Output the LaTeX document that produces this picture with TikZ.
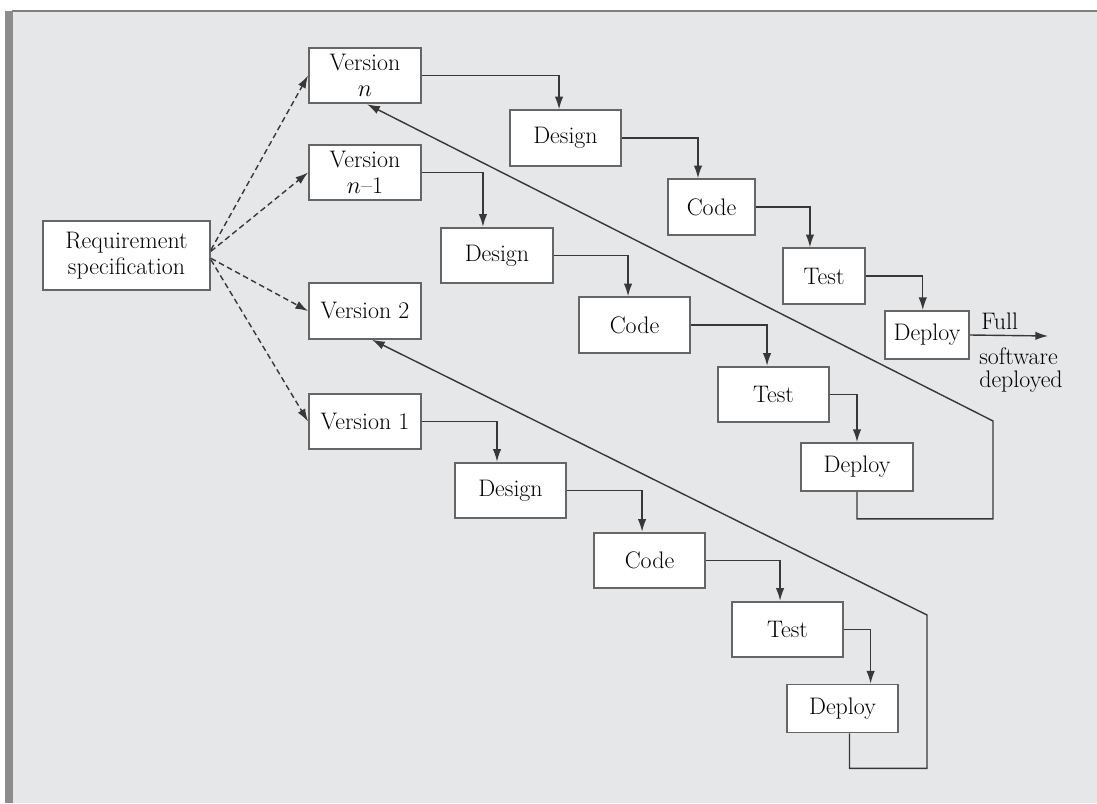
\documentclass[tikz,border=0pt]{standalone}
\usepackage{amsmath}
\usepackage{xcolor}
\usepackage{tikz}
\usetikzlibrary{arrows.meta}

\definecolor{panel}{HTML}{E6E7E9}
\definecolor{rim}{HTML}{666666}
\definecolor{ink}{HTML}{383838}

\begin{document}
\begin{tikzpicture}[x=0.025cm,y=-0.025cm]
\tikzstyle{every node}+=[inner sep=0pt, font=\fontsize{17}{18.5}\selectfont, text=black]
\tikzstyle{box}=[draw=rim, fill=white, line width=1.3pt, align=center, minimum width=2.78cm, minimum height=1.39cm]
\tikzstyle{low}=[box, minimum height=1.2cm]
\tikzstyle{flow}=[draw=ink, line width=1pt, -{Latex[length=9pt,width=6pt]}]
\tikzstyle{plan}=[flow, dash pattern=on 4pt off 2.5pt]
\useasboundingbox (0,0) rectangle (1097,803);
\fill [white] (0,0) rectangle (1097,803);
\fill [panel] (12,11) rectangle (1097,803);
\fill [gray!90] (5,11) rectangle (13,803);
\draw [gray, line width=1pt] (12,11) -- (1097,11);
\node [box, minimum width=4.175cm, minimum height=1.725cm] (req) at (126.5,255.5) {Requirement\\specification};
\node [box, minimum width=2.8cm] (vn) at (365,75.5) {Version\\$n$};
\node [box, minimum width=2.8cm] (vm) at (365,172.5) {Version\\$n$--1};
\node [box, minimum width=2.8cm] (vb) at (365,311) {Version 2};
\node [box, minimum width=2.8cm] (va) at (365,421.5) {Version 1};
\node [box] (dsgnn) at (565.5,138) {Design};
\node [box, minimum width=2.175cm] (coden) at (711.5,207) {Code};
\node [box, minimum width=2.05cm] (testn) at (824,276) {Test};
\node [low, minimum width=2.1cm] (depn) at (927,335) {Deploy};
\node [box] (dsgnm) at (497,255.5) {Design};
\node [box] (codem) at (634.5,325) {Code};
\node [box] (testm) at (773.5,394.5) {Test};
\node [low] (depm) at (857,467) {Deploy};
\node [box] (dsgna) at (510.5,490.5) {Design};
\node [box] (codea) at (649.5,560.5) {Code};
\node [box] (testa) at (787.5,629.5) {Test};
\node [low] (depa) at (842.5,708.5) {Deploy};
\coordinate (out) at (1048,336);
\coordinate (bendm) at (993,421);
\coordinate (benda) at (927,615);
\node [anchor=base west] (full) at (981,329) {Full};
\node [anchor=north west, align=left, font=\fontsize{17}{16.5}\selectfont] (soft) at (979,347) {software\\deployed};
\draw [plan] ([yshift=4pt]req.east) -- (vn.west);
\draw [plan] ([yshift=3pt]req.east) -- (vm.west);
\draw [plan] ([yshift=-2pt]req.east) -- (vb.west);
\draw [plan] ([yshift=-3pt]req.east) -- (va.west);
\draw [flow] (vn.east) -| ([xshift=-4.6pt]dsgnn.north);
\draw [flow] (dsgnn.east) -| ([xshift=-9.6pt]coden.north);
\draw [flow] (coden.east) -| ([xshift=-10pt]testn.north);
\draw [flow] (testn.east) -| ([xshift=-3pt]depn.north);
\draw [flow] (depn.east) -- (out);
\draw [flow] (vm.east) -| ([xshift=-10pt]dsgnm.north);
\draw [flow] (dsgnm.east) -| ([xshift=-4.6pt]codem.north);
\draw [flow] (codem.east) -| ([xshift=-4.6pt]testm.north);
\draw [flow] (testm.east) -| (depm.north);
\draw [flow] (va.east) -| ([xshift=-9.6pt]dsgna.north);
\draw [flow] (dsgna.east) -| ([xshift=-5.3pt]codea.north);
\draw [flow] (codea.east) -| ([xshift=-5.3pt]testa.north);
\draw [flow] (testa.east) -| ([xshift=20pt]depa.north);
\draw [flow] (depm.south) -- ++(0,27) -| (bendm) -- ([xshift=1.5pt]vn.south);
\draw [flow] ([xshift=5pt]depa.south) -- ++(0,35) -| (benda) -- ([xshift=5pt]vb.south);
\end{tikzpicture}
\end{document}
